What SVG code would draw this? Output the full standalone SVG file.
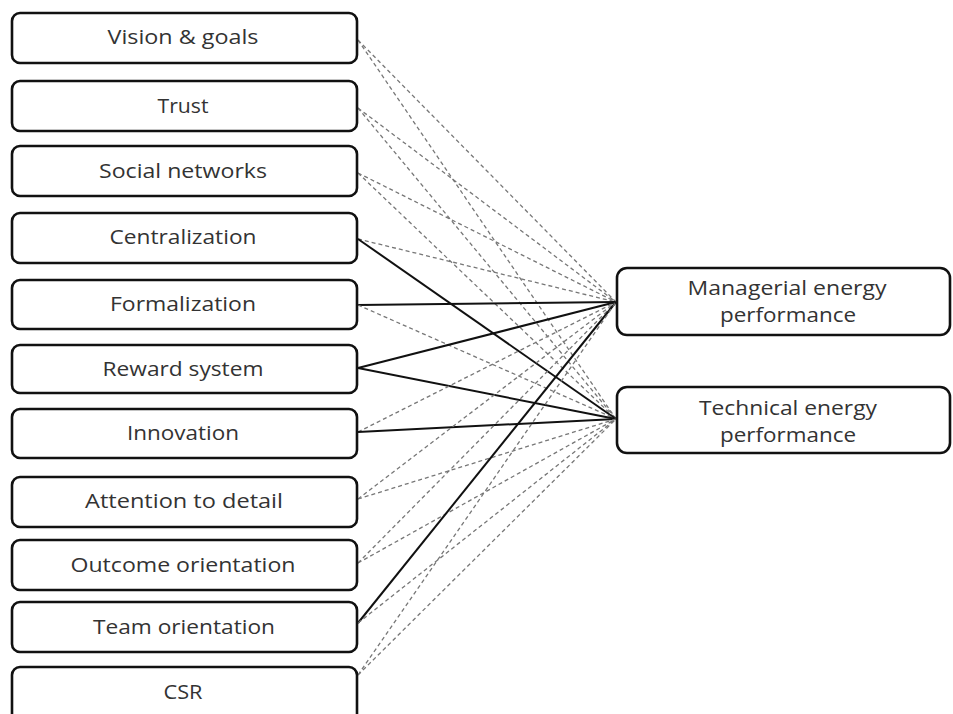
<svg xmlns="http://www.w3.org/2000/svg" width="953" height="714" viewBox="0 0 953 714">
<style>
.box{fill:#fff;stroke:#111;stroke-width:2.6}
.t{font-family:"Open Sans","Noto Sans",sans-serif;font-size:20px;fill:#333;text-anchor:middle}
.d{stroke:#777;stroke-width:1.3;stroke-dasharray:4 3;fill:none}
.s{stroke:#111;stroke-width:2;fill:none}
</style>
<rect width="953" height="714" fill="#fff"/>
<g id="connectors">
<line class="d" x1="358" y1="40" x2="616" y2="302"/>
<line class="d" x1="358" y1="40" x2="616" y2="419"/>
<line class="d" x1="358" y1="108" x2="616" y2="302"/>
<line class="d" x1="358" y1="108" x2="616" y2="419"/>
<line class="d" x1="358" y1="173" x2="616" y2="302"/>
<line class="d" x1="358" y1="173" x2="616" y2="419"/>
<line class="d" x1="358" y1="239" x2="616" y2="302"/>
<line class="s" x1="358" y1="239" x2="616" y2="419"/>
<line class="s" x1="358" y1="305" x2="616" y2="302"/>
<line class="d" x1="358" y1="305" x2="616" y2="419"/>
<line class="s" x1="358" y1="368" x2="616" y2="302"/>
<line class="s" x1="358" y1="368" x2="616" y2="419"/>
<line class="d" x1="358" y1="432" x2="616" y2="302"/>
<line class="s" x1="358" y1="432" x2="616" y2="419"/>
<line class="d" x1="358" y1="499" x2="616" y2="302"/>
<line class="d" x1="358" y1="499" x2="616" y2="419"/>
<line class="d" x1="358" y1="563" x2="616" y2="302"/>
<line class="d" x1="358" y1="563" x2="616" y2="419"/>
<line class="s" x1="358" y1="623" x2="616" y2="302"/>
<line class="d" x1="358" y1="623" x2="616" y2="419"/>
<line class="d" x1="358" y1="675" x2="616" y2="302"/>
<line class="d" x1="358" y1="675" x2="616" y2="419"/>
</g>
<g id="n1"><rect class="box" x="12" y="13" width="345" height="50" rx="8"/><text class="t" x="183" y="44" textLength="151" lengthAdjust="spacingAndGlyphs">Vision &amp; goals</text></g>
<g id="n2"><rect class="box" x="12" y="81" width="345" height="50" rx="8"/><text class="t" x="183" y="113" textLength="51" lengthAdjust="spacingAndGlyphs">Trust</text></g>
<g id="n3"><rect class="box" x="12" y="146" width="345" height="50" rx="8"/><text class="t" x="183" y="178" textLength="168" lengthAdjust="spacingAndGlyphs">Social networks</text></g>
<g id="n4"><rect class="box" x="12" y="213" width="345" height="50" rx="8"/><text class="t" x="183" y="244" textLength="147" lengthAdjust="spacingAndGlyphs">Centralization</text></g>
<g id="n5"><rect class="box" x="12" y="280" width="345" height="49" rx="8"/><text class="t" x="183" y="311" textLength="146" lengthAdjust="spacingAndGlyphs">Formalization</text></g>
<g id="n6"><rect class="box" x="12" y="345" width="345" height="48" rx="8"/><text class="t" x="183" y="376" textLength="161" lengthAdjust="spacingAndGlyphs">Reward system</text></g>
<g id="n7"><rect class="box" x="12" y="409" width="345" height="49" rx="8"/><text class="t" x="183" y="440" textLength="112" lengthAdjust="spacingAndGlyphs">Innovation</text></g>
<g id="n8"><rect class="box" x="12" y="477" width="345" height="50" rx="8"/><text class="t" x="184" y="508" textLength="198" lengthAdjust="spacingAndGlyphs">Attention to detail</text></g>
<g id="n9"><rect class="box" x="12" y="540" width="345" height="50" rx="8"/><text class="t" x="183" y="572" textLength="225" lengthAdjust="spacingAndGlyphs">Outcome orientation</text></g>
<g id="n10"><rect class="box" x="12" y="602" width="345" height="50" rx="8"/><text class="t" x="184" y="634" textLength="182" lengthAdjust="spacingAndGlyphs">Team orientation</text></g>
<g id="n11"><rect class="box" x="12" y="667" width="345" height="60" rx="8"/><text class="t" x="183" y="699" textLength="39" lengthAdjust="spacingAndGlyphs">CSR</text></g>
<g id="m1"><rect class="box" x="617" y="268" width="333" height="67" rx="10"/><text class="t" x="787" y="295" textLength="199" lengthAdjust="spacingAndGlyphs">Managerial energy</text><text class="t" x="788" y="322" textLength="136" lengthAdjust="spacingAndGlyphs">performance</text></g>
<g id="m2"><rect class="box" x="617" y="387" width="333" height="66" rx="10"/><text class="t" x="788" y="415" textLength="178" lengthAdjust="spacingAndGlyphs">Technical energy</text><text class="t" x="788" y="442" textLength="136" lengthAdjust="spacingAndGlyphs">performance</text></g>
</svg>
